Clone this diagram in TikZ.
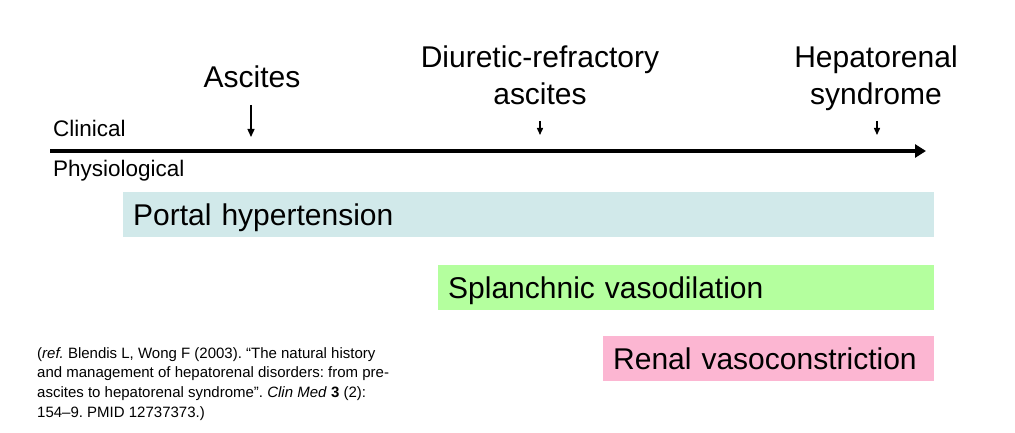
\documentclass[tikz,border=0pt]{standalone}
\usepackage{fontspec}
\setmainfont{Liberation Sans}
\usetikzlibrary{arrows.meta}
\definecolor{portalc}{HTML}{D1E9EA}
\definecolor{splanc}{HTML}{B4FF9E}
\definecolor{renalc}{HTML}{FCB6D2}
\tikzset{
  big/.style={font=\fontsize{30}{37}\selectfont, inner sep=0pt, align=center},
  axlabel/.style={font=\fontsize{22.5}{27}\selectfont, inner sep=0pt, anchor=base west},
  phase/.style={rectangle, anchor=north west, inner xsep=10pt, inner ysep=0pt, align=left,
    text height=25pt, text depth=3pt, font=\fontsize{30}{36}\selectfont},
  bigarrow/.style={line width=1.4pt, -{Triangle[length=8pt,width=7pt]}},
  smallarrow/.style={line width=1.4pt, -{Triangle[length=7pt,width=6pt]}},
  axis/.style={line width=3.5pt, -{Triangle[length=11pt,width=13pt]}},
}
\begin{document}
\frenchspacing
\begin{tikzpicture}[x=1pt,y=-1pt]
\useasboundingbox (0,0) rectangle (1015,433);
% event labels
\node[big, anchor=base] (asc) at (252,88) {Ascites};
\node[big, anchor=base] (dra) at (540,105) {Diuretic-refractory\\ascites};
\node[big, anchor=base] (hrs) at (876,105) {Hepatorenal\\syndrome};
% axis labels
\node[axlabel] (clin) at (53,137) {Clinical};
\node[axlabel] (phys) at (53,176) {Physiological};
% arrows
\coordinate (a1s) at (251,105);
\coordinate (a1e) at (251,137);
\coordinate (a2s) at (540,121);
\coordinate (a2e) at (540,135);
\coordinate (a3s) at (877,121);
\coordinate (a3e) at (877,135);
\draw[bigarrow] (a1s) -- (a1e);
\draw[smallarrow] (a2s) -- (a2e);
\draw[smallarrow] (a3s) -- (a3e);
\coordinate (ax0) at (50,151);
\coordinate (ax1) at (926,151);
\draw[axis] (ax0) -- (ax1);
% phases
\node[phase, fill=portalc, minimum width=811pt, minimum height=45pt, text width=791pt] (portal) at (123,192) {Portal hypertension};
\node[phase, fill=splanc, minimum width=496pt, minimum height=45pt, text width=476pt] (splan) at (438,265) {Splanchnic vasodilation};
\node[phase, fill=renalc, minimum width=331pt, minimum height=45pt, text width=311pt] (renal) at (603,336) {Renal vasoconstriction};
% reference
\node[anchor=north west, inner sep=0pt, align=left, font=\fontsize{15}{19.7}\selectfont] (ref) at (37,347)
{(\textit{ref.} Blendis L, Wong F (2003). “The natural history\\
and management of hepatorenal disorders: from pre-\\
ascites to hepatorenal syndrome”. \textit{Clin Med} \textbf{3} (2):\\
154–9. PMID 12737373.)};
\end{tikzpicture}
\end{document}
